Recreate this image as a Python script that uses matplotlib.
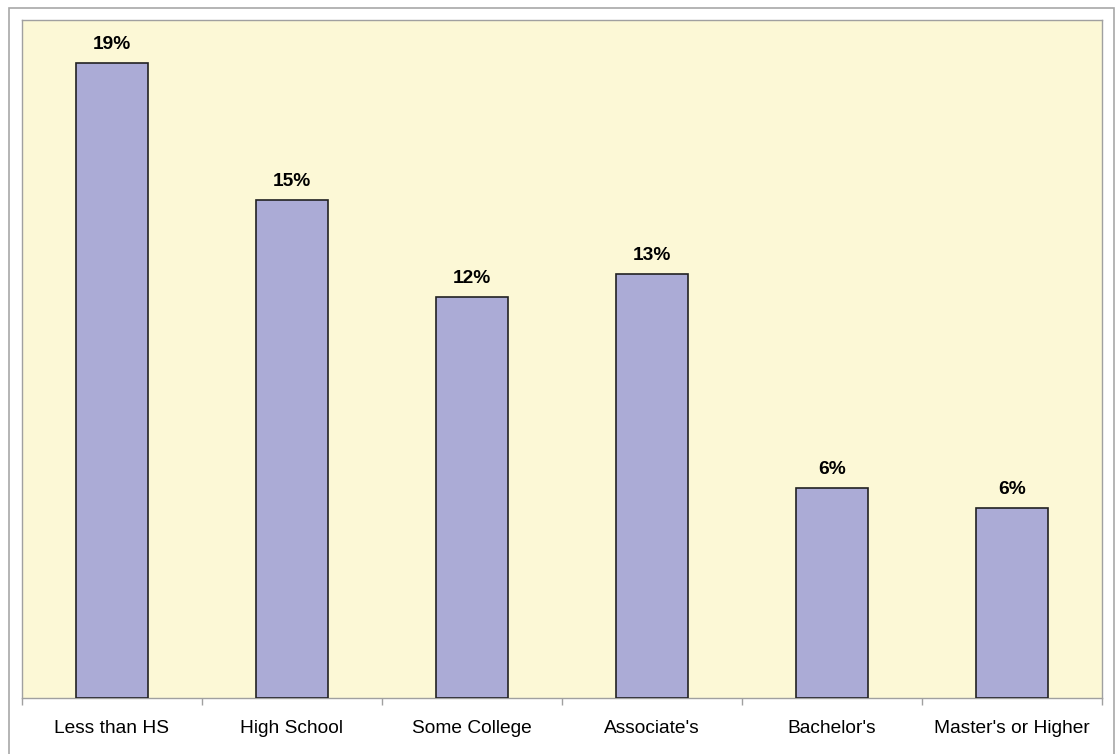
import matplotlib.pyplot as plt
from matplotlib.patches import Rectangle

categories = ["Less than HS", "High School", "Some College", "Associate's", "Bachelor's", "Master's or Higher"]
values = [19.0, 14.9, 12.0, 12.7, 6.3, 5.7]

plt.rcParams['font.family'] = ['Liberation Sans', 'DejaVu Sans']

W, H = 1116, 754
fig = plt.figure(figsize=(W / 100, H / 100), dpi=100)
ax = fig.add_axes([22 / W, 1 - 698 / H, (1102 - 22) / W, (698 - 20) / H])
ax.set_facecolor('#FCF8D6')

x = range(len(categories))
bars = ax.bar(x, values, width=0.4, color='#ABABD6', edgecolor='#222222', linewidth=1.2, zorder=3)
for b, v in zip(bars, values):
    ax.text(b.get_x() + b.get_width() / 2, v + 0.3, f"{v:.0f}%", ha='center', va='bottom',
            fontsize=13.8, fontweight='bold')

ax.set_xlim(-0.5, len(categories) - 0.5)
ax.set_ylim(0, 20.3)
ax.set_yticks([])
ax.set_xticks(list(x))
ax.set_xticklabels(categories, fontsize=13.8)
ax.tick_params(axis='x', length=0, pad=16)
# category boundary ticks
ax.set_xticks([i - 0.5 for i in range(len(categories) + 1)], minor=True)
ax.tick_params(axis='x', which='minor', length=5, color='#A0A0A0', width=1)

for s in ax.spines.values():
    s.set_color('#A0A0A0')
    s.set_linewidth(1)

# outer frame
fig.patches.append(Rectangle((8.5 / W, -0.05), (1114 - 8.5) / W, 1.05 - 7.5 / H,
                             transform=fig.transFigure, fill=False,
                             edgecolor='#A8A8A8', linewidth=1.2))

fig.savefig('out.png', dpi=100)
